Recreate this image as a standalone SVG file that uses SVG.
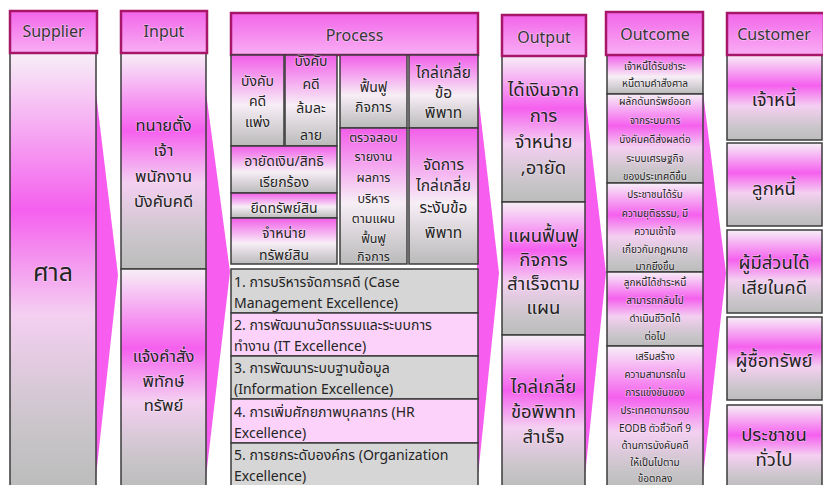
<svg xmlns="http://www.w3.org/2000/svg" width="823" height="485" viewBox="0 0 823 485">
  <defs>
    <!-- header bar fill -->
    <linearGradient id="gHead" x1="0" y1="0" x2="0" y2="1">
      <stop offset="0" stop-color="#f265e9"/>
      <stop offset="1" stop-color="#f9aef4"/>
    </linearGradient>
    <!-- column body fill: pale top, magenta band, pale, grey bottom -->
    <linearGradient id="gBody" x1="0" y1="0" x2="0" y2="1">
      <stop offset="0" stop-color="#f7eff7"/>
      <stop offset="0.36" stop-color="#f560ee"/>
      <stop offset="0.6" stop-color="#f4cff1"/>
      <stop offset="0.86" stop-color="#c9c5c9"/>
      <stop offset="1" stop-color="#bcbcbc"/>
    </linearGradient>
    <!-- magenta top fading to white then grey -->
    <linearGradient id="gTop" x1="0" y1="0" x2="0" y2="1">
      <stop offset="0" stop-color="#f25ee9"/>
      <stop offset="0.55" stop-color="#f7eef6"/>
      <stop offset="1" stop-color="#bababa"/>
    </linearGradient>
  </defs>
  <style>
    .hd { fill: url(#gHead); stroke: #a8166a; stroke-width: 2.5; }
    .bx { fill: url(#gBody); stroke: #3c3c3c; stroke-width: 1.5; }
    .bt { fill: url(#gTop); stroke: #3c3c3c; stroke-width: 1.5; }
    .rg { fill: #d6d6d6; stroke: #3c3c3c; stroke-width: 1.5; }
    .rp { fill: #fcd2fa; stroke: #3c3c3c; stroke-width: 1.5; }
    .wedge { fill: #f75ef0; }
    text { font-family: "Noto Sans", "Noto Sans Thai", "Open Sans", sans-serif; fill: #242424; text-anchor: middle; paint-order: stroke; stroke: #ffffff; stroke-opacity: 0.35; stroke-width: 1.5; }
    .th { font-size: 16px; fill: #363636; }
    .t17 { font-size: 16.5px; }
    .t18 { font-size: 18.5px; }
    .t15 { font-size: 15.5px; }
    .t14 { font-size: 14px; }
    .t13 { font-size: 12.5px; }
    .t10 { font-size: 10px; }
    .ls { font-size: 14px; text-anchor: start; stroke: none; }
  </style>

  <rect width="823" height="485" fill="#ffffff"/>

  <!-- chevron arrows between columns -->
  <g id="connectors">
    <polygon class="wedge" points="95,85 118,275 95,485"/>
    <polygon class="wedge" points="205,85 230,272 205,485"/>
    <polygon class="wedge" points="477,85 499,273 477,485"/>
    <polygon class="wedge" points="584,85 606,273 584,485"/>
    <polygon class="wedge" points="702,85 726,273 702,485"/>
  </g>

  <g id="supplier">
    <rect class="bx" x="10" y="53" width="86" height="436"/>
    <rect class="hd" x="10" y="11" width="87" height="42"/>
    <text class="th" x="53.5" y="37">Supplier</text>
    <text x="53" y="281" font-size="25">ศาล</text>
  </g>

  <g id="input">
    <rect class="bx" x="121" y="53" width="85" height="216"/>
    <rect class="bx" x="121" y="269" width="85" height="220"/>
    <rect class="hd" x="121" y="11" width="86" height="42"/>
    <text class="th" x="164" y="37">Input</text>
    <text class="t17" x="163.5" y="131">ทนายตั้ง</text>
    <text class="t17" x="163.5" y="156">เจ้า</text>
    <text class="t17" x="163.5" y="182">พนักงาน</text>
    <text class="t17" x="163.5" y="207">บังคับคดี</text>
    <text class="t17" x="163.5" y="362">แจ้งคำสั่ง</text>
    <text class="t17" x="163.5" y="387">พิทักษ์</text>
    <text class="t17" x="163.5" y="411">ทรัพย์</text>
  </g>

  <g id="process">
    <rect class="hd" x="231" y="13" width="247" height="42"/>
    <text class="th" x="354.5" y="41">Process</text>

    <rect class="bt" x="231" y="55" width="53" height="91"/>
    <text class="t14" x="257.5" y="86">บังคับ</text>
    <text class="t14" x="257.5" y="106">คดี</text>
    <text class="t14" x="257.5" y="127">แพ่ง</text>

    <rect class="bt" x="285" y="55" width="52" height="91"/>
    <text class="t14" x="311" y="66">บังคับ</text>
    <text class="t14" x="311" y="89">คดี</text>
    <text class="t14" x="311" y="113">ล้มละ</text>
    <text class="t14" x="311" y="140">ลาย</text>

    <rect class="bt" x="231" y="146" width="106" height="47"/>
    <text class="t14" x="284" y="166">อายัดเงิน/สิทธิ</text>
    <text class="t14" x="284" y="187">เรียกร้อง</text>

    <rect class="bt" x="231" y="193" width="106" height="25"/>
    <text class="t14" x="284" y="213">ยึดทรัพย์สิน</text>

    <rect class="bt" x="231" y="218" width="106" height="46"/>
    <text class="t14" x="284" y="238">จำหน่าย</text>
    <text class="t14" x="284" y="260">ทรัพย์สิน</text>

    <rect class="bt" x="340" y="55" width="67" height="73"/>
    <text class="t14" x="373.5" y="92">ฟื้นฟู</text>
    <text class="t14" x="373.5" y="112">กิจการ</text>

    <rect class="bt" x="340" y="128" width="67" height="136"/>
    <text class="t13" x="373.5" y="142">ตรวจสอบ</text>
    <text class="t13" x="373.5" y="161">รายงาน</text>
    <text class="t13" x="373.5" y="182">ผลการ</text>
    <text class="t13" x="373.5" y="203">บริหาร</text>
    <text class="t13" x="373.5" y="223">ตามแผน</text>
    <text class="t13" x="373.5" y="243">ฟื้นฟู</text>
    <text class="t13" x="373.5" y="261">กิจการ</text>

    <rect class="bt" x="409" y="55" width="69" height="73"/>
    <text class="t15" x="443.5" y="78">ไกล่เกลี่ย</text>
    <text class="t15" x="443.5" y="98">ข้อ</text>
    <text class="t15" x="443.5" y="118">พิพาท</text>

    <rect class="bt" x="409" y="128" width="69" height="136"/>
    <text class="t15" x="443.5" y="170">จัดการ</text>
    <text class="t15" x="443.5" y="191">ไกล่เกลี่ย</text>
    <text class="t15" x="443.5" y="213">ระงับข้อ</text>
    <text class="t15" x="443.5" y="238">พิพาท</text>

    <rect class="rg" x="231" y="269" width="247" height="44"/>
    <rect class="rp" x="231" y="313" width="247" height="43"/>
    <rect class="rg" x="231" y="356" width="247" height="43"/>
    <rect class="rp" x="231" y="399" width="247" height="44"/>
    <rect class="rg" x="231" y="443" width="247" height="46"/>
    <text class="ls" x="234" y="287">1. การบริหารจัดการคดี (Case</text>
    <text class="ls" x="234" y="308">Management Excellence)</text>
    <text class="ls" x="234" y="330">2. การพัฒนานวัตกรรมและระบบการ</text>
    <text class="ls" x="234" y="351">ทำงาน (IT Excellence)</text>
    <text class="ls" x="234" y="373">3. การพัฒนาระบบฐานข้อมูล</text>
    <text class="ls" x="234" y="394">(Information Excellence)</text>
    <text class="ls" x="234" y="417">4. การเพิ่มศักยภาพบุคลากร (HR</text>
    <text class="ls" x="234" y="438">Excellence)</text>
    <text class="ls" x="234" y="460">5. การยกระดับองค์กร (Organization</text>
    <text class="ls" x="234" y="481">Excellence)</text>
  </g>

  <g id="output">
    <rect class="bx" x="502" y="56" width="83" height="146"/>
    <rect class="bx" x="502" y="202" width="83" height="133"/>
    <rect class="bx" x="502" y="335" width="83" height="154"/>
    <rect class="hd" x="502" y="15" width="84" height="41"/>
    <text class="th" x="544" y="43">Output</text>
    <text class="t18" x="543.5" y="96">ได้เงินจาก</text>
    <text class="t18" x="543.5" y="122">การ</text>
    <text class="t18" x="543.5" y="148">จำหน่าย</text>
    <text class="t18" x="543.5" y="174">,อายัด</text>
    <text class="t18" x="543.5" y="242">แผนฟื้นฟู</text>
    <text class="t18" x="543.5" y="266">กิจการ</text>
    <text class="t18" x="543.5" y="290">สำเร็จตาม</text>
    <text class="t18" x="543.5" y="314">แผน</text>
    <text class="t18" x="543.5" y="393">ไกล่เกลี่ย</text>
    <text class="t18" x="543.5" y="418">ข้อพิพาท</text>
    <text class="t18" x="543.5" y="443">สำเร็จ</text>
  </g>

  <g id="outcome">
    <rect class="bt" x="607" y="55" width="96" height="39"/>
    <rect class="bx" x="607" y="94" width="96" height="89"/>
    <rect class="bx" x="607" y="183" width="96" height="89"/>
    <rect class="bx" x="607" y="272" width="96" height="74"/>
    <rect class="bx" x="607" y="346" width="96" height="143"/>
    <rect class="hd" x="606" y="12" width="97" height="43"/>
    <text class="th" x="655" y="40">Outcome</text>
    <text class="t10" x="655" y="70">เจ้าหนี้ได้รับชำระ</text>
    <text class="t10" x="655" y="87">หนี้ตามคำสั่งศาล</text>
    <text class="t10" x="655" y="105">ผลักดันทรัพย์ออก</text>
    <text class="t10" x="655" y="124">จากระบบการ</text>
    <text class="t10" x="655" y="143">บังคับคดีส่งผลต่อ</text>
    <text class="t10" x="655" y="162">ระบบเศรษฐกิจ</text>
    <text class="t10" x="655" y="180">ของประเทศดีขึ้น</text>
    <text class="t10" x="655" y="198">ประชาชนได้รับ</text>
    <text class="t10" x="655" y="217">ความยุติธรรม, มี</text>
    <text class="t10" x="655" y="235">ความเข้าใจ</text>
    <text class="t10" x="655" y="253">เกี่ยวกับกฎหมาย</text>
    <text class="t10" x="655" y="270">มากยิ่งขึ้น</text>
    <text class="t10" x="655" y="286">ลูกหนี้ได้ชำระหนี้</text>
    <text class="t10" x="655" y="304">สามารถกลับไป</text>
    <text class="t10" x="655" y="322">ดำเนินชีวิตได้</text>
    <text class="t10" x="655" y="340">ต่อไป</text>
    <text class="t10" x="655" y="360">เสริมสร้าง</text>
    <text class="t10" x="655" y="378">ความสามารถใน</text>
    <text class="t10" x="655" y="396">การแข่งขันของ</text>
    <text class="t10" x="655" y="414">ประเทศตามกรอบ</text>
    <text class="t10" x="655" y="432">EODB ตัวชี้วัดที่ 9</text>
    <text class="t10" x="655" y="449">ด้านการบังคับคดี</text>
    <text class="t10" x="655" y="466">ให้เป็นไปตาม</text>
    <text class="t10" x="655" y="482">ข้อตกลง</text>
  </g>

  <g id="customer">
    <rect class="bx" x="727" y="55" width="95" height="85"/>
    <rect class="bx" x="727" y="143" width="95" height="83"/>
    <rect class="bx" x="727" y="230" width="95" height="83"/>
    <rect class="bx" x="727" y="317" width="95" height="83"/>
    <rect class="bx" x="727" y="405" width="95" height="84"/>
    <rect class="hd" x="727" y="13" width="97" height="42"/>
    <text class="th" x="774" y="40" font-size="16.5">Customer</text>
    <text class="t18" x="774" y="106">เจ้าหนี้</text>
    <text class="t18" x="774" y="195">ลูกหนี้</text>
    <text class="t18" x="774" y="269">ผู้มีส่วนได้</text>
    <text class="t18" x="774" y="294">เสียในคดี</text>
    <text class="t18" x="774" y="367">ผู้ซื้อทรัพย์</text>
    <text class="t18" x="774" y="441">ประชาชน</text>
    <text class="t18" x="774" y="466">ทั่วไป</text>
  </g>
</svg>
